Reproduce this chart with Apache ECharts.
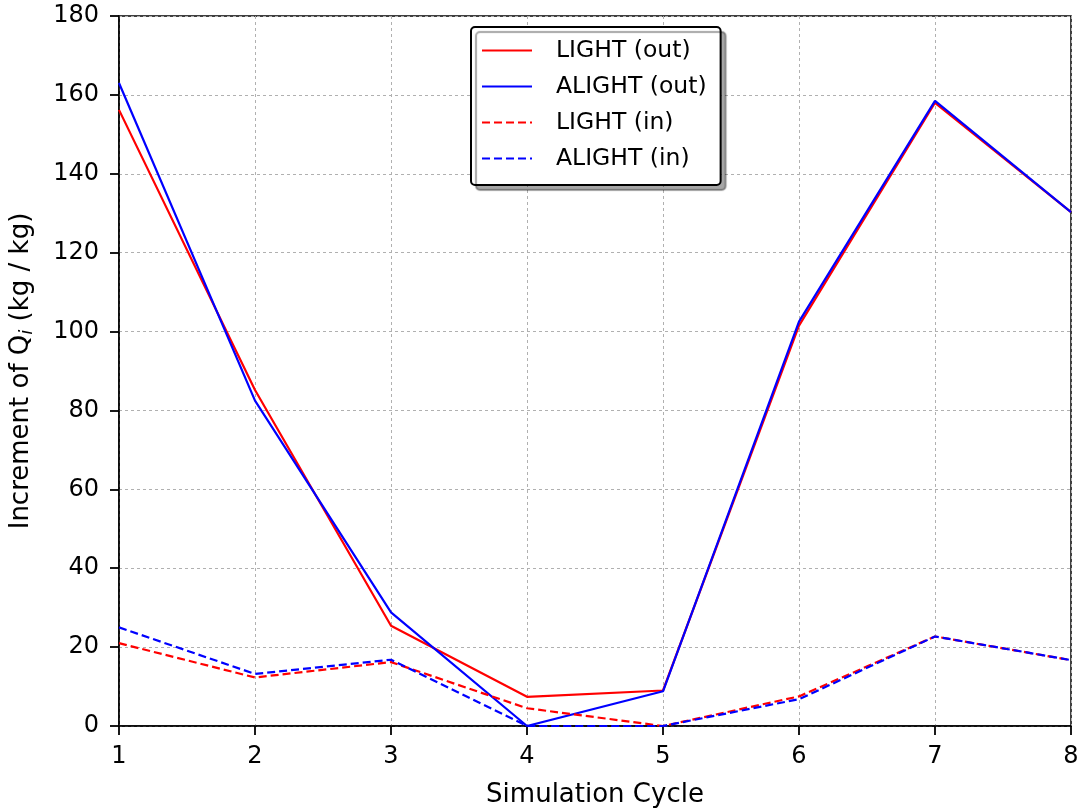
<!DOCTYPE html>
<html>
<head>
<meta charset="utf-8">
<script src="https://cdn.jsdelivr.net/npm/echarts@6/dist/echarts.min.js"></script>
<style>
html,body{margin:0;padding:0;background:#fff;}
#chart{width:1083px;height:809px;}
</style>
</head>
<body>
<div id="chart"></div>
<script>
const cycles = [1, 2, 3, 4, 5, 6, 7, 8];
const lightOut = [156.2, 85.2, 25.4, 7.4, 9.0, 101.5, 158.0, 130.3];
const alightOut = [163.0, 82.5, 28.8, 0.0, 8.8, 102.5, 158.5, 130.3];
const lightIn = [21.0, 12.3, 16.2, 4.5, 0.0, 7.5, 22.7, 16.7];
const alightIn = [25.0, 13.2, 16.8, 0.0, 0.0, 6.8, 22.7, 16.7];
const yTicks = [0, 20, 40, 60, 80, 100, 120, 140, 160, 180];

const FONT = 'DejaVu Sans';
const pairs = arr => cycles.map((c, i) => [c, arr[i]]);
const mk = (name, arr, color, dashed) => ({
  name: name,
  type: 'line',
  data: pairs(arr),
  symbol: 'none',
  showSymbol: false,
  lineStyle: { color: color, width: 2.2, type: dashed ? [8, 4] : 'solid' },
  itemStyle: { color: color },
  animation: false,
  z: 3
});

const chart = echarts.init(document.getElementById('chart'), null, { renderer: 'canvas' });
chart.setOption({
  backgroundColor: '#ffffff',
  animation: false,
  grid: {
    left: 119, right: 12, top: 16, bottom: 83,
    outerBoundsMode: 'none', containLabel: false,
    show: true, borderColor: '#000', borderWidth: 1.5, backgroundColor: 'transparent'
  },
  legend: {
    left: 471, top: 27,
    orient: 'vertical',
    data: ['LIGHT (out)', 'ALIGHT (out)', 'LIGHT (in)', 'ALIGHT (in)'],
    itemWidth: 50, itemHeight: 14, itemGap: 11,
    padding: [11, 14, 14, 10],
    backgroundColor: '#fff',
    borderColor: '#000', borderWidth: 2, borderRadius: 4,
    shadowColor: 'rgba(0,0,0,0.35)', shadowOffsetX: 5, shadowOffsetY: 5, shadowBlur: 1,
    itemStyle: { opacity: 0 },
    textStyle: { fontFamily: FONT, fontSize: 23.5, color: '#000', lineHeight: 25, padding: [0, 0, 0, 19] }
  },
  xAxis: {
    type: 'value', min: 1, max: 8, interval: 1,
    name: 'Simulation Cycle', nameLocation: 'middle', nameGap: 56,
    nameTextStyle: { fontFamily: FONT, fontSize: 26, color: '#000' },
    axisLine: { show: true, lineStyle: { color: '#000', width: 1.5 } },
    axisTick: { show: true, inside: false, length: 9, lineStyle: { color: '#000', width: 1.8 } },
    axisLabel: { fontFamily: FONT, fontSize: 24, color: '#000', margin: 19 },
    splitLine: { show: true, lineStyle: { color: '#b0b0b0', width: 1, type: [3, 3] } }
  },
  yAxis: {
    type: 'value', min: yTicks[0], max: yTicks[yTicks.length - 1], interval: 20,
    name: 'Increment of Q{s|i} (kg / kg)', nameLocation: 'middle', nameGap: 83,
    nameRotate: 90,
    nameTextStyle: {
      fontFamily: FONT, fontSize: 26, color: '#000',
      rich: { s: { fontFamily: FONT, fontSize: 18, fontStyle: 'italic', color: '#000', verticalAlign: 'bottom', padding: [11, 0, 0, 0] } }
    },
    axisLine: { show: true, lineStyle: { color: '#000', width: 1.5 } },
    axisTick: { show: true, inside: false, length: 9, lineStyle: { color: '#000', width: 1.8 } },
    axisLabel: { fontFamily: FONT, fontSize: 24, color: '#000', margin: 20,
      formatter: v => yTicks.includes(v) ? String(v) : '' },
    splitLine: { show: true, lineStyle: { color: '#b0b0b0', width: 1, type: [3, 3] } }
  },
  series: [
    mk('LIGHT (out)', lightOut, '#ff0000', false),
    mk('ALIGHT (out)', alightOut, '#0000ff', false),
    mk('LIGHT (in)', lightIn, '#ff0000', true),
    mk('ALIGHT (in)', alightIn, '#0000ff', true)
  ]
});
</script>
</body>
</html>
